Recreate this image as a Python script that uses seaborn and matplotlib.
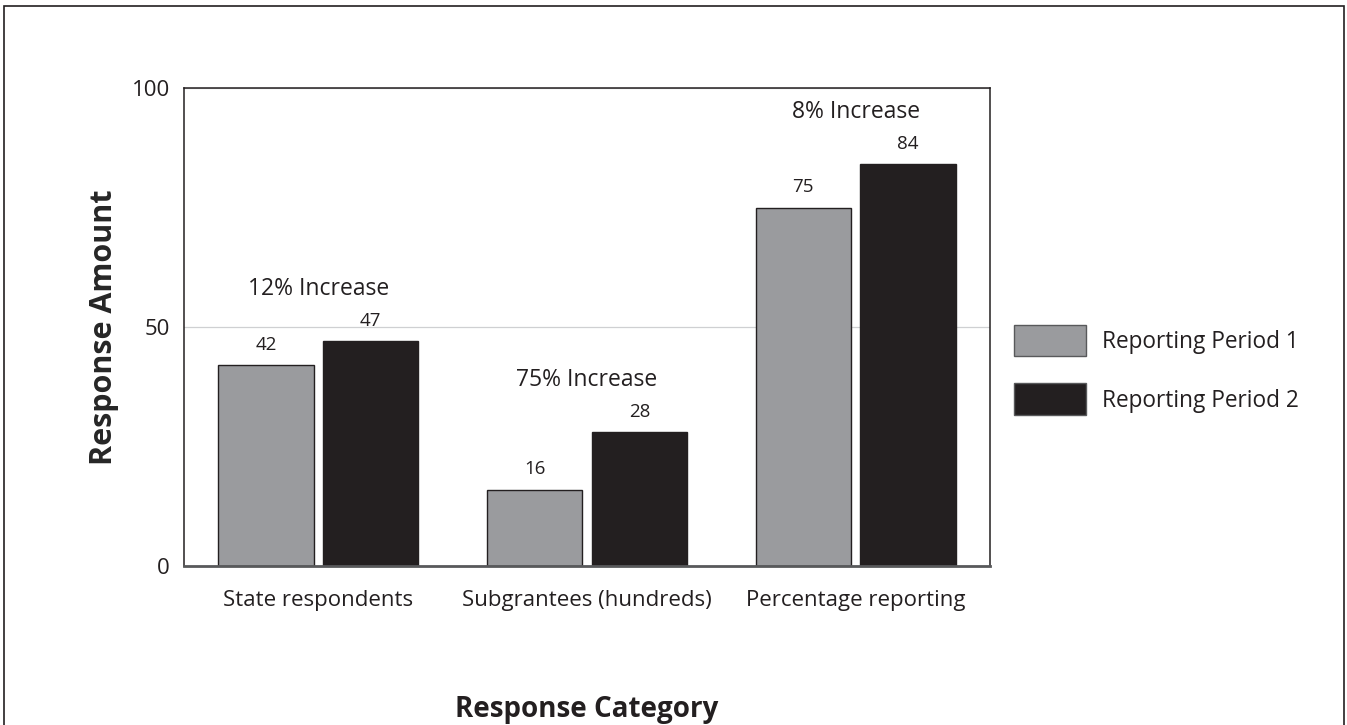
import matplotlib
matplotlib.use("Agg")
import matplotlib.pyplot as plt
from matplotlib.patches import Rectangle
import pandas as pd
import seaborn as sns

categories = ["State respondents", "Subgrantees (hundreds)", "Percentage reporting"]
period_1 = [42, 16, 75]
period_2 = [47, 28, 84]
series_names = ["Reporting Period 1", "Reporting Period 2"]
increase_labels = ["12% Increase", "75% Increase", "8% Increase"]
y_ticks = [0, 50, 100]

gray = "#9a9b9e"
dark = "#231f20"

df = pd.DataFrame({
    "category": categories * 2,
    "value": period_1 + period_2,
    "series": [series_names[0]] * len(categories) + [series_names[1]] * len(categories),
})

sns.set_theme(style="white")
plt.rcParams["font.family"] = ["Open Sans", "DejaVu Sans"]
plt.rcParams["text.color"] = "#231f20"

W, H = 1347, 725
fig = plt.figure(figsize=(W / 100, H / 100), dpi=100)
ax = fig.add_axes([184 / W, 1 - 566 / H, (990 - 184) / W, (566 - 88) / H])

sns.barplot(
    data=df, x="category", y="value", hue="series",
    palette=[gray, dark], width=0.78, gap=0.09,
    edgecolor="#231f20", linewidth=1.0, saturation=1, ax=ax,
)

ax.set_ylim(0, 100)
ax.set_yticks(y_ticks)
ax.yaxis.grid(True, color="#cfd0d2", linewidth=0.9)
ax.set_axisbelow(True)
ax.tick_params(axis="both", length=0, labelsize=16, colors="#231f20")
ax.tick_params(axis="y", pad=10)
ax.tick_params(axis="x", pad=17)
for side in ["left", "top", "right"]:
    ax.spines[side].set_color("#231f20")
    ax.spines[side].set_linewidth(1.1)
ax.spines["bottom"].set_color("#58595b")
ax.spines["bottom"].set_linewidth(2)

ax.set_xlabel("")
ax.set_ylabel("Response Amount", fontsize=22, fontweight="bold", labelpad=9)

# value labels above each bar
for cont in ax.containers:
    ax.bar_label(cont, fmt="%d", padding=8, fontsize=13.5, color="#231f20")

# percentage increase above each pair
for i, (a, b, txt) in enumerate(zip(period_1, period_2, increase_labels)):
    ax.annotate(txt, xy=(i, max(a, b)), xytext=(0, 37.5), textcoords="offset points",
                ha="center", va="center", fontsize=16.5, color="#231f20")

leg = ax.legend(
    loc="upper left", bbox_to_anchor=(1.019, 0.524), frameon=False,
    fontsize=16.3, handlelength=3.15, handleheight=1.78, labelspacing=1.2,
    handletextpad=0.7, borderaxespad=0,
)
for h in leg.legend_handles:
    h.set_edgecolor("#58595b")

fig.text(587 / W, 1 - 709 / H, "Response Category", ha="center", va="center",
         fontsize=20, fontweight="bold", color="#231f20")

# outer frame (open at the bottom edge)
fig.patches.append(Rectangle((4 / W, -0.05), (1344 - 4) / W, 1.05 - 6 / H,
                             transform=fig.transFigure, fill=False,
                             edgecolor="#231f20", linewidth=1.2))

fig.savefig("out.png", dpi=100)
